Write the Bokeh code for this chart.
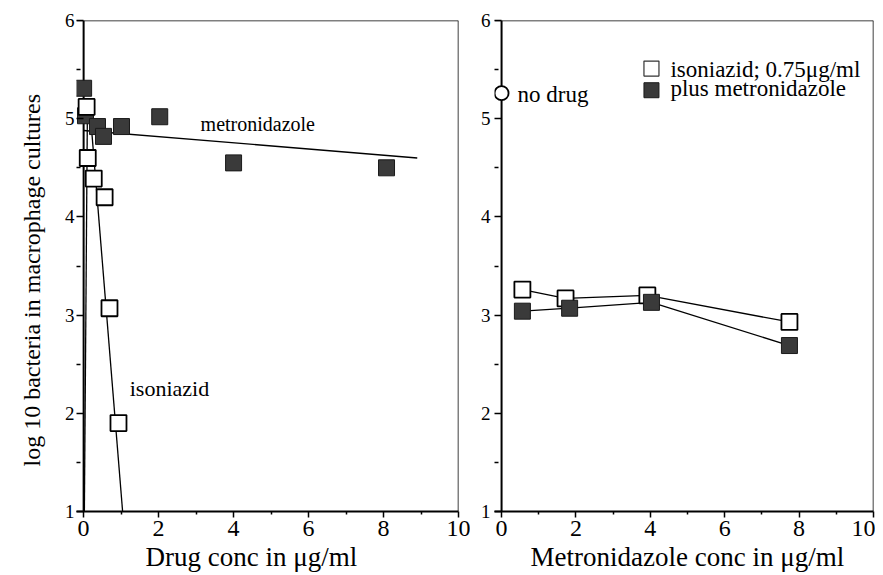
from bokeh.plotting import figure
from bokeh.layouts import row
from bokeh.models import Range1d, FixedTicker, Span, Title
from bokeh.core.properties import value
from bokeh.embed import file_html
from bokeh.resources import INLINE

# ---- Left panel data: single drugs ----
iso_conc = [0.08, 0.11, 0.27, 0.56, 0.69, 0.93]
iso_log = [5.12, 4.60, 4.39, 4.20, 3.07, 1.90]
met_conc = [0.0, 0.05, 0.37, 0.53, 1.01, 2.03, 4.0, 8.08]
met_log = [5.31, 5.03, 4.92, 4.82, 4.92, 5.02, 4.55, 4.50]
met_fit_conc = [0.0, 8.9]
met_fit_log = [4.88, 4.60]
iso_fit_conc = [0.2, 1.04]
iso_fit_log = [4.95, 1.0]
iso_fit2_conc = [0.1, 0.02]
iso_fit2_log = [5.05, 1.0]

# ---- Right panel data: isoniazid 0.75 ug/ml plus metronidazole ----
combo_open_conc = [0.56, 1.72, 3.92, 7.74]
combo_open_log = [3.26, 3.17, 3.20, 2.93]
combo_fill_conc = [0.56, 1.83, 4.03, 7.74]
combo_fill_log = [3.04, 3.07, 3.13, 2.69]
nodrug_conc = [0.0]
nodrug_log = [5.26]

x_ticks = [0, 2, 4, 6, 8, 10]
x_minor = [1, 3, 5, 7, 9]
y_ticks = [1, 2, 3, 4, 5, 6]
y_minor = [1.5, 2.5, 3.5, 4.5, 5.5]

SERIF = "Liberation Serif"
FILL = "#3a3a3a"


def make_fig(width, min_left, min_right, xlabel, label_offset, is_left):
    p = figure(width=width, height=572, x_range=Range1d(-0.19, 10), y_range=Range1d(1, 6),
               output_backend="svg", toolbar_location=None,
               min_border_left=min_left, min_border_right=min_right,
               min_border_top=20, min_border_bottom=0)
    p.grid.visible = False
    p.outline_line_color = None
    p.background_fill_color = "white"
    p.border_fill_color = "white"

    xa = p.xaxis[0]
    xa.ticker = FixedTicker(ticks=x_ticks, minor_ticks=x_minor)
    xa.axis_line_width = 2
    xa.major_tick_out = 6
    xa.major_tick_in = 0
    xa.minor_tick_out = 3
    xa.minor_tick_in = 0
    xa.major_tick_line_width = 1.5
    xa.minor_tick_line_width = 1.5
    xa.major_label_text_font = SERIF
    xa.major_label_text_font_size = "24px"
    xa.major_label_text_color = "black"
    xa.major_label_standoff = 3

    ya = p.yaxis[0]
    ya.ticker = FixedTicker(ticks=y_ticks, minor_ticks=y_minor)
    ya.axis_line_color = None
    ya.major_tick_out = 0
    ya.major_tick_in = 7
    ya.minor_tick_out = 0
    ya.minor_tick_in = 4
    ya.major_tick_line_width = 1.5
    ya.minor_tick_line_width = 1.5
    ya.major_label_text_font = SERIF
    ya.major_label_text_font_size = "19px"
    ya.major_label_text_color = "black"
    ya.major_label_standoff = 2 if is_left else 4

    p.add_layout(Span(location=0, dimension="height", line_color="black", line_width=2, level="underlay"))
    p.add_layout(Span(location=6, dimension="width", line_color="black", line_width=1.5))
    p.add_layout(Span(location=10, dimension="height", line_color="black", line_width=1.5))

    p.add_layout(Title(text=xlabel, align="left", offset=label_offset, text_font=SERIF,
                       text_font_size="27px", text_font_style="normal", text_color="black",
                       standoff=2), "below")
    return p


left = make_fig(470, 76, 12, "Drug conc in μg/ml", 69, True)
left.add_layout(Title(text="log 10 bacteria in macrophage cultures", align="left", offset=45,
                      text_font=SERIF, text_font_size="24px", text_font_style="normal",
                      text_color="black", standoff=33), "left")
left.line(met_fit_conc, met_fit_log, line_color="black", line_width=1.3)
left.line(iso_fit_conc, iso_fit_log, line_color="black", line_width=1.3)
left.line(iso_fit2_conc, iso_fit2_log, line_color="black", line_width=1.3)
left.scatter(met_conc, met_log, marker="square", size=16, fill_color=FILL, line_color="#1a1a1a", line_width=1)
left.scatter(iso_conc, iso_log, marker="square", size=16, fill_color="white", line_color="black", line_width=1.8)
left.text(x=[3.12], y=[4.95], text=["metronidazole"], text_font=value(SERIF), text_font_size="20px",
          text_baseline="middle", text_align="left", text_color="black")
left.text(x=[1.23], y=[2.25], text=["isoniazid"], text_font=value(SERIF), text_font_size="22px",
          text_baseline="middle", text_align="left", text_color="black")

right = make_fig(405, 24, 2, "Metronidazole conc in μg/ml", 36, False)
right.line(combo_open_conc, combo_open_log, line_color="black", line_width=1.3)
right.line(combo_fill_conc, combo_fill_log, line_color="black", line_width=1.3)
right.scatter(combo_open_conc, combo_open_log, marker="square", size=16, fill_color="white",
              line_color="black", line_width=1.8)
right.scatter(combo_fill_conc, combo_fill_log, marker="square", size=16, fill_color=FILL,
              line_color="#1a1a1a", line_width=1)
right.scatter(nodrug_conc, nodrug_log, marker="circle", size=14, fill_color="white",
              line_color="black", line_width=1.8)
right.text(x=[0.43], y=[5.25], text=["no drug"], text_font=value(SERIF), text_font_size="23px",
           text_baseline="middle", text_align="left", text_color="black")
# legend
right.scatter([4.03], [5.51], marker="square", size=15, fill_color="white", line_color="#333333",
              line_width=1.2)
right.scatter([4.03], [5.29], marker="square", size=15, fill_color=FILL, line_color="#1a1a1a",
              line_width=1)
right.text(x=[4.54, 4.54], y=[5.50, 5.31], text=["isoniazid; 0.75μg/ml", "plus metronidazole"],
           text_font=value(SERIF), text_font_size="23px", text_baseline="middle", text_align="left",
           text_color="black")

layout = row(left, right)
open("out.html", "w").write(file_html(layout, INLINE))
